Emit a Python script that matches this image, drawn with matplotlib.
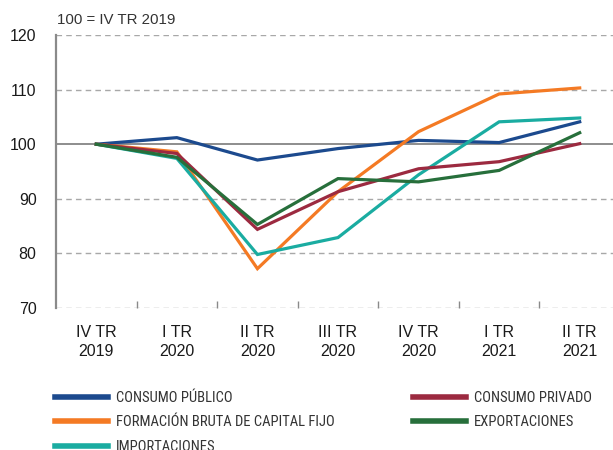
import os
import matplotlib
matplotlib.use("Agg")
import matplotlib.pyplot as plt
from matplotlib import font_manager as fm

categories = ["IV TR\n2019", "I TR\n2020", "II TR\n2020", "III TR\n2020",
              "IV TR\n2020", "I TR\n2021", "II TR\n2021"]
consumo_publico = [100, 101.2, 97.1, 99.2, 100.7, 100.3, 104.1]
consumo_privado = [100, 98.3, 84.4, 91.3, 95.5, 96.8, 100.1]
fbcf = [100, 98.6, 77.2, 91.3, 102.3, 109.2, 110.3]
exportaciones = [100, 97.6, 85.3, 93.7, 93.1, 95.2, 102.1]
importaciones = [100, 97.4, 79.8, 82.9, 94.4, 104.1, 104.8]

series = [
    ("CONSUMO PÚBLICO", consumo_publico, "#1c4a8e"),
    ("FORMACIÓN BRUTA DE CAPITAL FIJO", fbcf, "#f47a24"),
    ("IMPORTACIONES", importaciones, "#1aaca1"),
    ("CONSUMO PRIVADO", consumo_privado, "#9c2a40"),
    ("EXPORTACIONES", exportaciones, "#276f3b"),
]

plt.rcParams['font.family'] = ['Liberation Sans', 'DejaVu Sans']

# find a condensed font for the legend
def find_condensed():
    prefs = ["LiberationSansNarrow-Regular", "RobotoCondensed-Regular",
             "OpenSans_Condensed-Regular", "OpenSansCondensed", "DejaVuSansCondensed.ttf"]
    files = [f.fname for f in fm.fontManager.ttflist]
    for p in prefs:
        for fn in files:
            b = os.path.basename(fn)
            if p in b and "Bold" not in b and "Italic" not in b and "Oblique" not in b:
                return fn
    for fn in files:
        b = os.path.basename(fn)
        if ("Condensed" in b or "Narrow" in b) and "Bold" not in b and "Italic" not in b \
                and "Oblique" not in b and "Light" not in b:
            return fn
    return None

cond = find_condensed()
if cond:
    leg_prop = fm.FontProperties(fname=cond, size=10.5)
else:
    leg_prop = fm.FontProperties(family='Liberation Sans', size=9)

fig = plt.figure(figsize=(6.13, 4.5), dpi=100)
ax = fig.add_axes([56/613, 1-308/450, (620-56)/613, (308-35)/450])

x = list(range(len(categories)))
handles = {}
for name, vals, col in series:
    ln, = ax.plot(x, vals, color=col, lw=2.3, solid_joinstyle='miter', zorder=3)
    handles[name] = ln

ax.set_xlim(-0.5, 6.5)
ax.set_ylim(70, 120)
ax.set_yticks([70, 80, 90, 100, 110, 120])
for v in [70, 80, 90, 110, 120]:
    ax.axhline(v, color="#a8a8a8", lw=1.0, ls=(0, (4, 3)), zorder=1)
ax.axhline(100, color="#7a7a7a", lw=1.2, zorder=2)

for s in ["top", "right", "bottom"]:
    ax.spines[s].set_visible(False)
ax.spines["left"].set_color("#8a8a8a")
ax.spines["left"].set_linewidth(1.6)

ax.set_xticks(x)
ax.set_xticklabels(categories, fontsize=11.5, color="#1a1a1a", linespacing=1.35)
ax.tick_params(axis="x", length=0, pad=12)
ax.set_xticks([i + 0.5 for i in range(6)], minor=True)
ax.tick_params(axis="x", which="minor", direction="in", length=5, color="#8a8a8a", width=1)
ax.tick_params(axis="y", length=0, pad=14, labelsize=11.5, labelcolor="#1a1a1a")

fig.text(57/613, 1-20/450, "100 = IV TR 2019", fontsize=10.8, color="#333333", va="center")

leg_kw = dict(frameon=False, handlelength=3.6, handletextpad=0.55, labelspacing=0.72,
              borderpad=0, borderaxespad=0, loc="upper left",
              prop=leg_prop, labelcolor="#333333")
names1 = ["CONSUMO PÚBLICO", "FORMACIÓN BRUTA DE CAPITAL FIJO", "IMPORTACIONES"]
names2 = ["CONSUMO PRIVADO", "EXPORTACIONES"]
leg1 = fig.legend([handles[n] for n in names1], names1,
                  bbox_to_anchor=(55/613, 1-391/450), **leg_kw)
leg2 = fig.legend([handles[n] for n in names2], names2,
                  bbox_to_anchor=(413/613, 1-391/450), **leg_kw)
for lg in (leg1, leg2):
    for h in lg.legend_handles:
        h.set_linewidth(4)

fig.savefig("out.png", dpi=100)
